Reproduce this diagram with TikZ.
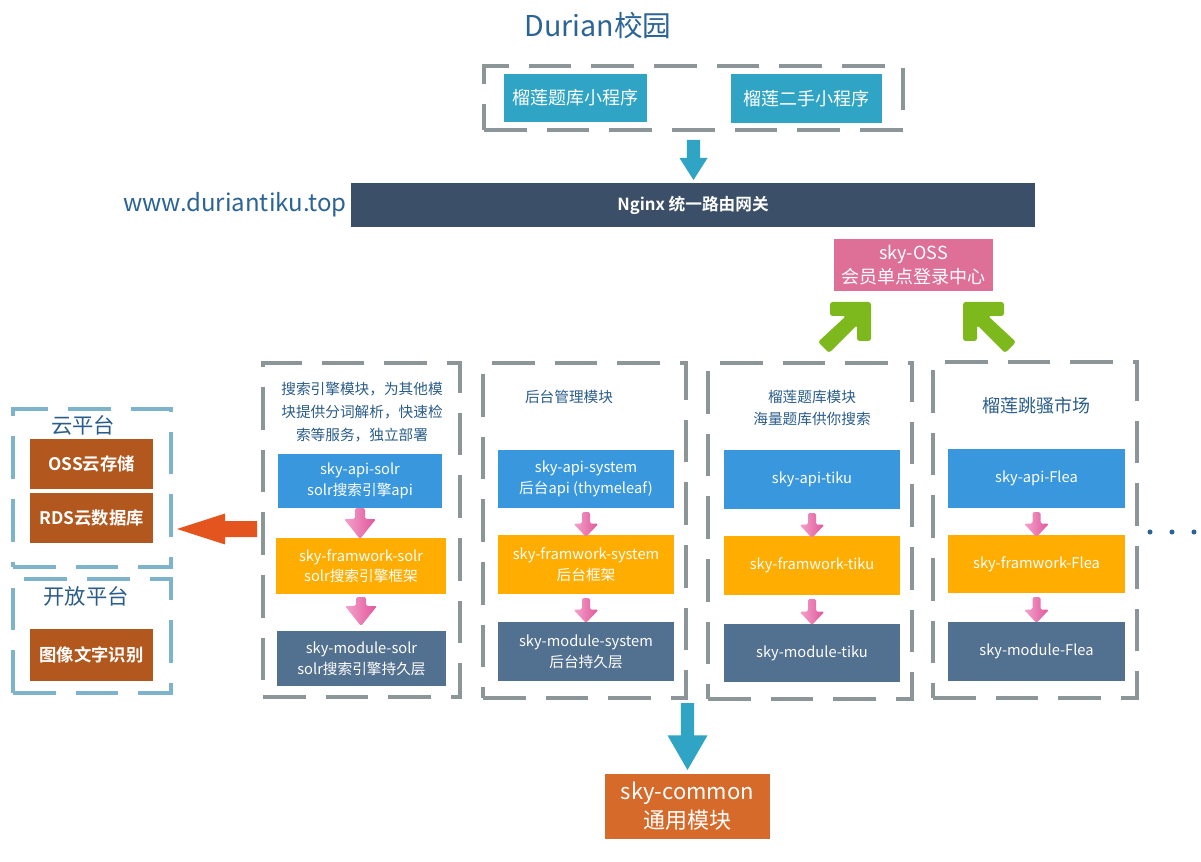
\documentclass[tikz,border=0pt]{standalone}
\usepackage{fontspec}
\setmainfont{Noto Sans CJK SC}[BoldFont={Noto Sans CJK SC Bold}]
\usetikzlibrary{calc}
\definecolor{framegray}{HTML}{8C9699}
\definecolor{frameblue}{HTML}{7DB4CB}
\definecolor{tealc}{HTML}{2FA4C4}
\definecolor{nginxc}{HTML}{3B5068}
\definecolor{titleblue}{HTML}{2C6496}
\definecolor{hdrblue}{HTML}{2B5D8A}
\definecolor{ossc}{HTML}{DE7098}
\definecolor{greenc}{HTML}{7DB81C}
\definecolor{apic}{HTML}{3897DD}
\definecolor{fwc}{HTML}{FFAD00}
\definecolor{modc}{HTML}{52708F}
\definecolor{brownc}{HTML}{B2581F}
\definecolor{redc}{HTML}{E4541F}
\definecolor{commonc}{HTML}{D66A2A}
\definecolor{pinkL}{HTML}{F4A3CB}
\definecolor{pinkR}{HTML}{E0559A}
\newcommand\fsz[2]{\fontsize{#1}{#2}\selectfont}
% box from pixel corners
\newcommand\bx[7]{\node[#6, minimum width={(#4-#2)*0.75pt}, minimum height={(#5-#3)*0.75pt}] (#1) at ({(#2+#4)/2},{(#3+#5)/2}) {#7};}
% downward block arrow: style, from, to, shaft half, head half, head length
\newcommand\varrow[6]{\path[#1] let \p1=(#2), \p2=(#3) in (\x1-#4,\y1) -- (\x1+#4,\y1) -- (\x1+#4,\y2+#6) -- (\x1+#5,\y2+#6) -- (\x1,\y2) -- (\x1-#5,\y2+#6) -- (\x1-#4,\y2+#6) -- cycle;}
% leftward block arrow
\newcommand\harrow[6]{\path[#1] let \p1=(#2), \p2=(#3) in (\x1,\y1-#4) -- (\x1,\y1+#4) -- (\x2+#6,\y1+#4) -- (\x2+#6,\y1+#5) -- (\x2,\y1) -- (\x2+#6,\y1-#5) -- (\x2+#6,\y1-#4) -- cycle;}
\begin{document}
\begin{tikzpicture}[x=0.75pt,y=-0.75pt,
  frame/.style={draw=framegray, line width=3pt, dash pattern=on 32pt off 15pt, inner sep=0pt, outer sep=0pt},
  bframe/.style={frame, draw=frameblue},
  fbox/.style={inner sep=0pt, outer sep=0pt, text=white, align=center},
  tealbox/.style={fbox, fill=tealc, font=\fsz{13.5}{16}},
  nginxbox/.style={fbox, fill=nginxc, font=\fsz{12.5}{15}\bfseries},
  ossbox/.style={fbox, fill=ossc, font=\fsz{13.5}{18}},
  apibox/.style={fbox, fill=apic, font=\fsz{11}{15.5}},
  fwbox/.style={fbox, fill=fwc, font=\fsz{11}{15.5}},
  modbox/.style={fbox, fill=modc, font=\fsz{11}{15.5}},
  brownbox/.style={fbox, fill=brownc, font=\fsz{13}{16}\bfseries},
  commonbox/.style={fbox, fill=commonc, font=\fsz{16.5}{22}},
  hdr/.style={text=hdrblue, align=center, inner sep=0pt, font=\fsz{11}{17.5}},
  tealarr/.style={fill=tealc},
  redarr/.style={fill=redc},
  pinkarr/.style={left color=pinkL, right color=pinkR, rounded corners=1.2pt},
  greenarr/.style={fill=greenc, rounded corners=2pt},
  dot/.style={circle, fill=titleblue, inner sep=0pt, minimum size=3.8pt}
]
\useasboundingbox[fill=white] (0,0) rectangle (1201,862);

% titles
\node[text=titleblue, font=\fsz{21.5}{24}, inner sep=0pt] (title) at (598,26) {Durian校园};
\node[text=titleblue, font=\fsz{18}{20}, inner sep=0pt] (www) at (235,205) {www.duriantiku.top};

% top frame and mini programs
\bx{topframe}{484}{66}{903}{130}{frame}{}
\bx{mp1}{504}{74}{647}{122}{tealbox}{榴莲题库小程序}
\bx{mp2}{731}{74}{882}{123}{tealbox}{榴莲二手小程序}

% nginx
\bx{nginx}{351}{183}{1035}{227}{nginxbox}{Nginx 统一路由网关}
\varrow{tealarr}{$(topframe.south)+(0,10)$}{$(nginx.north -| topframe.south)+(0,-3)$}{4.9pt}{10.5pt}{16.5pt}

% OSS
\bx{oss}{834}{239}{993}{291}{ossbox}{sky-OSS\\会员单点登录中心}
\coordinate (tipL) at ($(oss.south west)+(37,11)$);
\coordinate (tipR) at ($(oss.south east)+(-30,11)$);
\fill[greenarr, shift={(tipL)}] (-41,0) -- (0,0) -- (0,39) -- (-14,39) -- (-14,23) -- (-42,51) -- (-53,40) -- (-25,14) -- (-41,14) -- cycle;
\fill[greenarr, shift={(tipR)}, xscale=-1] (-41,0) -- (0,0) -- (0,39) -- (-14,39) -- (-14,23) -- (-42,51) -- (-53,40) -- (-25,14) -- (-41,14) -- cycle;

% module frames
\bx{col1}{263}{363}{460}{697}{frame}{}
\bx{col2}{483}{363}{686}{698}{frame}{}
\bx{col3}{708}{363}{912}{699}{frame}{}
\bx{col4}{933}{362}{1137}{698}{frame}{}

% headers
\node[hdr] (hdr1) at (362,412) {搜索引擎模块，为其他模\\块提供分词解析，快速检\\索等服务，独立部署};
\node[hdr] (hdr2) at (569,397) {后台管理模块};
\node[hdr, font=\fsz{11}{16.5}] (hdr3) at (812,408) {榴莲题库模块\\海量题库供你搜索};
\node[hdr, font=\fsz{13.5}{16}] (hdr4) at (1036,406) {榴莲跳骚市场};

% column 1
\bx{c1api}{278}{454}{442}{508}{apibox}{sky-api-solr\\solr搜索引擎api}
\bx{c1fw}{276}{538}{446}{594}{fwbox}{sky-framwork-solr\\solr搜索引擎框架}
\bx{c1mod}{277}{631}{446}{686}{modbox}{sky-module-solr\\solr搜索引擎持久层}
% column 2
\bx{c2api}{498}{450}{674}{508}{apibox}{sky-api-system\\后台api (thymeleaf)}
\bx{c2fw}{498}{535}{674}{594}{fwbox}{sky-framwork-system\\后台框架}
\bx{c2mod}{498}{622}{674}{681}{modbox}{sky-module-system\\后台持久层}
% column 3
\bx{c3api}{724}{450}{900}{509}{apibox}{sky-api-tiku}
\bx{c3fw}{724}{536}{900}{595}{fwbox}{sky-framwork-tiku}
\bx{c3mod}{724}{624}{900}{682}{modbox}{sky-module-tiku}
% column 4
\bx{c4api}{948}{449}{1125}{508}{apibox}{sky-api-Flea}
\bx{c4fw}{948}{535}{1125}{593}{fwbox}{sky-framwork-Flea}
\bx{c4mod}{948}{622}{1125}{681}{modbox}{sky-module-Flea}

% pink arrows
\varrow{pinkarr}{$(c1api.south)+(0,0)$}{$(c1fw.north)+(0,1)$}{3.75pt}{12pt}{15pt}
\varrow{pinkarr}{$(c1fw.south)+(0,3)$}{$(c1mod.north)+(0,-5)$}{3.75pt}{12pt}{15pt}
\varrow{pinkarr}{$(c2api.south)+(0,4)$}{$(c2fw.north)+(0,2)$}{3pt}{9.4pt}{10pt}
\varrow{pinkarr}{$(c2fw.south)+(0,4)$}{$(c2mod.north)+(0,1)$}{3pt}{9.4pt}{10pt}
\varrow{pinkarr}{$(c3api.south)+(0,4)$}{$(c3fw.north)+(0,2)$}{3pt}{9.4pt}{10pt}
\varrow{pinkarr}{$(c3fw.south)+(0,4)$}{$(c3mod.north)+(0,1)$}{3pt}{9.4pt}{10pt}
\varrow{pinkarr}{$(c4api.south)+(0,4)$}{$(c4fw.north)+(0,2)$}{3pt}{9.4pt}{10pt}
\varrow{pinkarr}{$(c4fw.south)+(0,4)$}{$(c4mod.north)+(0,1)$}{3pt}{9.4pt}{10pt}

% dots
\node[dot] (d1) at (1150,532) {};
\node[dot] (d2) at (1172,532) {};
\node[dot] (d3) at (1194,532) {};

% left platforms
\bx{cloudframe}{13}{409}{171}{567}{bframe}{}
\bx{openframe}{13}{579}{171}{693}{bframe}{}
\node[text=hdrblue, font=\fsz{16}{18}, inner sep=0pt] (cloudt) at (83,425) {云平台};
\node[text=hdrblue, font=\fsz{16}{18}, inner sep=0pt] (opent) at (86,596) {开放平台};
\bx{ossstore}{30}{439}{153}{489}{brownbox}{OSS云存储}
\bx{rds}{30}{493}{153}{543}{brownbox}{RDS云数据库}
\bx{ocr}{30}{629}{153}{681}{brownbox}{图像文字识别}
\harrow{redarr}{$(col1.west)+(-6,-1)$}{$(cloudframe.east |- col1.west)+(6,-1)$}{6pt}{11.6pt}{36pt}

% common
\bx{common}{605}{774}{770}{839}{commonbox}{sky-common\\通用模块}
\varrow{tealarr}{$(common.north)+(0,-71)$}{$(common.north)+(0,-4)$}{4.9pt}{15pt}{26pt}
\end{tikzpicture}
\end{document}
